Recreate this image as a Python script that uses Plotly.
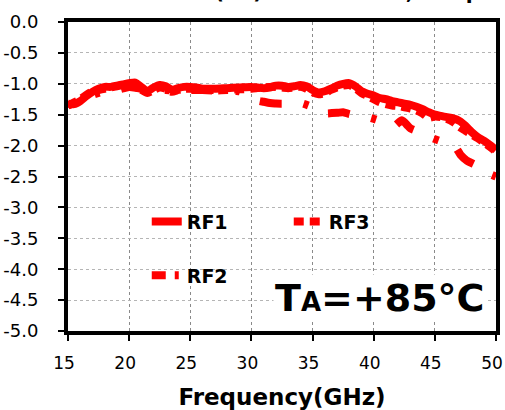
import plotly.graph_objects as go

# ---- data ----
freq_rf1 = [15.0, 15.5, 16.0, 16.5, 17.0, 17.5, 18.0, 18.5, 19.0, 19.5, 20.0, 20.5, 21.0, 21.5,
            22.0, 22.5, 23.0, 23.5, 24.0, 24.5, 25.0, 25.5, 26.0, 27.0, 28.0, 29.0, 30.0, 30.5,
            31.0, 31.5, 32.0, 32.5, 33.0, 33.5, 34.0, 34.5, 35.0, 35.5, 36.0, 36.5, 37.0, 37.5,
            38.0, 38.5, 39.0, 39.5, 40.0, 40.5, 41.0, 41.5, 42.0, 42.5, 43.0, 43.5, 44.0, 44.5,
            45.0, 45.5, 46.0, 46.5, 47.0, 47.5, 48.0, 48.5, 49.0, 49.5, 50.0]
rf1 = [-1.32, -1.33, -1.28, -1.20, -1.13, -1.08, -1.05, -1.05, -1.03, -1.01, -0.99, -0.98, -1.05, -1.12,
       -1.06, -1.02, -1.04, -1.10, -1.07, -1.05, -1.05, -1.06, -1.08, -1.08, -1.07, -1.06, -1.05, -1.06,
       -1.07, -1.06, -1.03, -1.03, -1.05, -1.04, -1.02, -1.04, -1.10, -1.14, -1.12, -1.08, -1.03, -1.00,
       -0.99, -1.04, -1.12, -1.16, -1.19, -1.23, -1.25, -1.28, -1.30, -1.32, -1.34, -1.37, -1.41, -1.46,
       -1.50, -1.52, -1.54, -1.56, -1.60, -1.68, -1.78, -1.86, -1.92, -1.99, -2.07]

freq_rf3 = freq_rf1
rf3 = [-1.35, -1.30, -1.25, -1.18, -1.12, -1.10, -1.08, -1.06, -1.04, -1.02, -1.00, -1.02, -1.10, -1.15,
       -1.10, -1.06, -1.08, -1.13, -1.10, -1.08, -1.08, -1.09, -1.10, -1.11, -1.10, -1.09, -1.08, -1.07,
       -1.06, -1.05, -1.05, -1.06, -1.07, -1.06, -1.05, -1.08, -1.14, -1.17, -1.15, -1.10, -1.06, -1.03,
       -1.02, -1.07, -1.15, -1.20, -1.25, -1.30, -1.33, -1.35, -1.36, -1.38, -1.40, -1.43, -1.48, -1.55,
       -1.53, -1.54, -1.57, -1.62, -1.70, -1.76, -1.82, -1.88, -1.95, -2.02, -2.10]

freq_rf2 = [15.0, 16.0, 17.0, 18.0, 19.0, 20.0, 21.0, 22.0, 23.0, 24.0, 25.0, 26.0, 27.0, 28.0, 29.0,
            30.0, 30.5, 31.0, 31.5, 32.0, 33.0, 34.0, 35.0, 35.5, 36.0, 37.0, 37.5, 38.0, 39.0, 39.7,
            40.5, 41.0, 41.7, 42.3, 43.0, 44.0, 44.8, 45.5, 46.6, 47.1, 47.6, 48.5, 49.4, 50.0]
rf2 = [-1.35, -1.28, -1.18, -1.12, -1.10, -1.05, -1.08, -1.10, -1.10, -1.12, -1.10, -1.10, -1.10, -1.12, -1.12,
       -1.20, -1.27, -1.29, -1.31, -1.32, -1.32, -1.31, -1.38, -1.46, -1.48, -1.47, -1.46, -1.49, -1.53, -1.55,
       -1.60, -1.64, -1.68, -1.59, -1.72, -1.80, -1.88, -1.93, -2.00, -2.15, -2.24, -2.33, -2.45, -2.50]

y_tick_vals = [0.0, -0.5, -1.0, -1.5, -2.0, -2.5, -3.0, -3.5, -4.0, -4.5, -5.0]
y_tick_text = ["0.0", "-0.5", "-1.0", "-1.5", "-2.0", "-2.5", "-3.0", "-3.5", "-4.0", "-4.5", "-5.0"]
x_tick_vals = [15, 20, 25, 30, 35, 40, 45, 50]

RED = "#ff0000"
FONT = "DejaVu Sans"

fig = go.Figure()
fig.add_trace(go.Scatter(x=freq_rf1, y=rf1, name="RF1", mode="lines",
                         line=dict(color=RED, width=8, shape="spline", smoothing=0.6),
                         legend="legend"))
fig.add_trace(go.Scatter(x=freq_rf3, y=rf3, name="RF3", mode="lines",
                         line=dict(color=RED, width=8, dash="10px,6px", shape="spline", smoothing=0.6),
                         legend="legend"))
fig.add_trace(go.Scatter(x=freq_rf2, y=rf2, name="RF2", mode="lines", showlegend=False,
                         legendgroup="rf2",
                         line=dict(color=RED, width=8, dash="7px,22px,5px,22px,15px,0px",
                                   shape="spline", smoothing=0.6)))
# legend key for RF2 (no data, only the key sample)
fig.add_trace(go.Scatter(x=[None], y=[None], name="RF2", mode="lines", legendgroup="rf2",
                         line=dict(color=RED, width=8, dash="14px,9px,4px,9px"),
                         legend="legend2"))

legend_font = dict(family=FONT, size=19, color="black", weight="bold")

fig.update_layout(
    width=505, height=410,
    margin=dict(l=68, r=9, t=22, b=79, autoexpand=False),
    paper_bgcolor="white", plot_bgcolor="white",
    font=dict(family=FONT, color="black"),
    xaxis=dict(range=[15, 50], tickvals=x_tick_vals, automargin=False,
               tickfont=dict(size=17, family=FONT, color="black"), ticklabelstandoff=8,
               ticklabelshift=-4, ticklabeloverflow="allow",
               title=dict(text="Frequency(GHz)", font=dict(size=23, family=FONT, weight="bold", color="black"),
                          standoff=18),
               showgrid=True, gridcolor="#8a8a8a", gridwidth=1, griddash="dot",
               showline=True, linecolor="black", linewidth=4, mirror=True,
               ticks="outside", ticklen=6, tickwidth=1.5, tickcolor="black", zeroline=False),
    yaxis=dict(range=[-5, 0], tickvals=y_tick_vals, ticktext=y_tick_text, automargin=False,
               tickfont=dict(size=18, family=FONT, color="black"), ticklabelstandoff=16,
               showgrid=True, gridcolor="#b5b5b5", gridwidth=1, griddash="dot",
               showline=True, linecolor="black", linewidth=4, mirror=True,
               ticks="outside", ticklen=6, tickwidth=1.5, tickcolor="black", zeroline=False),
    legend=dict(orientation="h", x=0.184, y=0.354, xanchor="left", yanchor="middle",
                bgcolor="rgba(0,0,0,0)", font=legend_font,
                entrywidth=97, entrywidthmode="pixels", traceorder="normal"),
    legend2=dict(orientation="h", x=0.184, y=0.18, xanchor="left", yanchor="middle",
                 bgcolor="rgba(0,0,0,0)", font=legend_font),
    showlegend=True,
)

fig.add_annotation(
    text="T<span style='font-size:26px'>A</span>=+85°C",
    xref="paper", yref="paper", x=0.729, y=0.107, xanchor="center", yanchor="middle",
    showarrow=False, bgcolor="white",
    font=dict(family=FONT, size=38, color="black", weight="bold"),
)

fig.add_annotation(
    text="Insertion Loss (dB) vs. RFx Port, Temp",
    xref="paper", yref="paper", x=0.46, y=1.051, xanchor="center", yanchor="bottom",
    showarrow=False,
    font=dict(family=FONT, size=20, color="black", weight="bold"),
)

fig.write_html("out.html", config={"displayModeBar": False},
               post_script="document.body.style.margin='0px';")
